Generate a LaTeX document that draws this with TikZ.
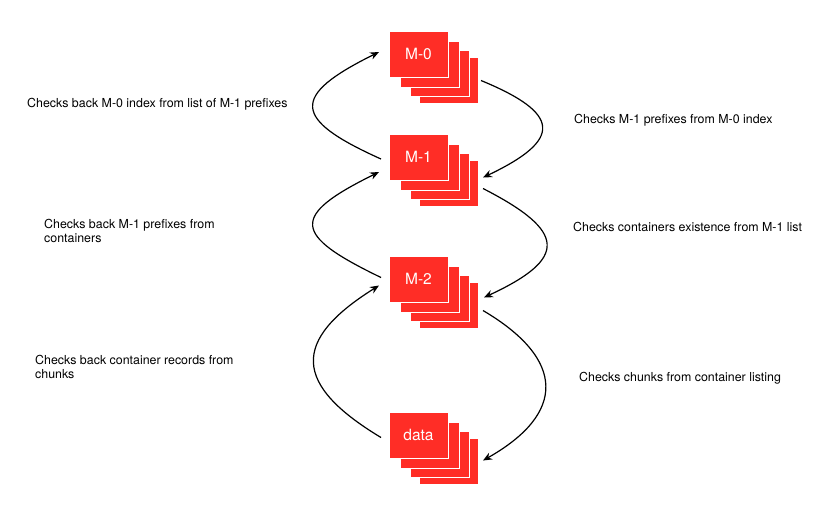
\documentclass[tikz,border=0pt]{standalone}
\usepackage{fontspec}
\setmainfont{TeX Gyre Heros}
\usepackage{tikz}
\usetikzlibrary{arrows.meta,calc}
\definecolor{cardred}{RGB}{255,45,38}
\tikzset{
  % one sheet of a stack
  card/.style={
    draw=white,
    line width=1pt,
    fill=cardred,
    anchor=north west,
    minimum width=59pt,
    minimum height=46pt,
    inner sep=0pt,
    outer sep=0pt
  },
  % text on the front sheet
  cardlab/.style={font=\fontsize{15.5}{18}\selectfont, text=white},
  % side notes
  note/.style={
    anchor=west,
    align=left,
    inner sep=0pt,
    font=\fontsize{12.4}{14.6}\selectfont
  },
  % arrows
  arr/.style={-{Stealth[length=9pt,width=7.5pt]}, line width=1.2pt, black},
}

\begin{document}
\begin{tikzpicture}[x=1pt,y=-1pt]
  \useasboundingbox (0,0) rectangle (816,520);

  % Stacks
  \foreach \nm/\y/\txt in {m0/31/M-0, m1/134/M-1, m2/256/M-2, data/412/data} {
    \node[card] (\nm-c) at (419,{\y+26}) {};
    \node[card] (\nm-b) at (410,{\y+19}) {};
    \node[card] (\nm-a) at (400,{\y+10}) {};
    \node[card] (\nm) at (389,\y) {};
    \node[cardlab] at (\nm.center) {\txt};
  }

  % Checks back (left)
  \draw[arr] ($(m1.west)+(-8,2)$) .. controls +(-89,-40) and +(-89,44) .. ($(m0.west)+(-10,-2)$);
  \draw[arr] ($(m2.west)+(-8,-1.5)$) .. controls +(-89,-43) and +(-89,44) .. ($(m1.west)+(-10,15)$);
  \draw[arr] ($(data.west)+(-8,2.5)$) .. controls +(-88,-53) and +(-88,55) .. ($(m2.west)+(-10,6.5)$);

  % Checks (right)
  \draw[arr] ($(m0-c.east)+(3,0.5)$) .. controls +(80,33) and +(80,-38) .. ($(m1-c.east)+(5,-5.5)$);
  \draw[arr] ($(m1-c.east)+(5,5.5)$) .. controls +(84,43) and +(84,-39) .. ($(m2-c.east)+(6,-7.5)$);
  \draw[arr] ($(m2-c.east)+(5,5.5)$) .. controls +(83,49) and +(83,-47) .. ($(data-c.east)+(5,-0.5)$);

  % Notes
  \node[note] (back0) at (27,104) {Checks back M-0 index from list of M-1 prefixes};
  \node[note] (back1) at (44,231) {Checks back M-1 prefixes from\\containers};
  \node[note] (back2) at (35,367) {Checks back container records from\\chunks};
  \node[note] (fwd0) at (574,120) {Checks M-1 prefixes from M-0 index};
  \node[note] (fwd1) at (573,227) {Checks containers existence from M-1 list};
  \node[note] (fwd2) at (579,378) {Checks chunks from container listing};
\end{tikzpicture}
\end{document}
